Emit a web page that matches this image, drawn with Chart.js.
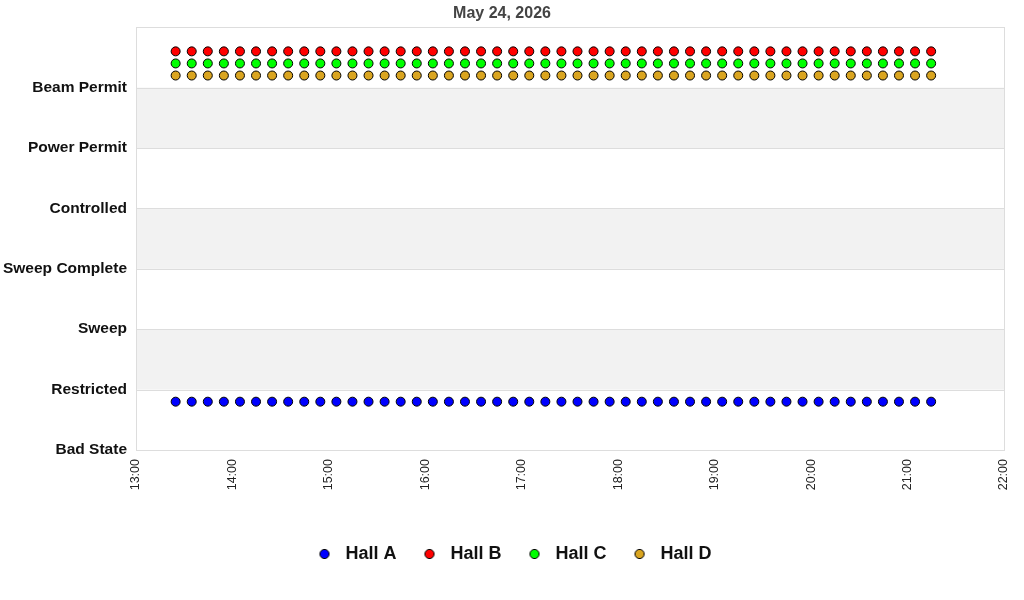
<!DOCTYPE html>
<html>
<head>
<meta charset="utf-8">
<script src="https://cdn.jsdelivr.net/npm/chart.js@4.4.1/dist/chart.umd.min.js"></script>
<style>
html, body { margin: 0; padding: 0; background: #fff; }
#wrap { width: 1024px; height: 600px; }
</style>
</head>
<body>
<div id="wrap"><canvas id="myChart"></canvas></div>
<script>
'use strict'
// chart data
var chartTitle = 'May 24, 2026';
var stateLabels = ['Bad State', 'Restricted', 'Sweep', 'Sweep Complete', 'Controlled', 'Power Permit', 'Beam Permit'];
var xTickLabels = ['13:00', '14:00', '15:00', '16:00', '17:00', '18:00', '19:00', '20:00', '21:00', '22:00'];
var hallNames = ['Hall A', 'Hall B', 'Hall C', 'Hall D'];

var sampleTimes = ['13:24:40', '13:34:40', '13:44:40', '13:54:40', '14:04:40', '14:14:40', '14:24:40', '14:34:40',
    '14:44:40', '14:54:40', '15:04:40', '15:14:40', '15:24:40', '15:34:40', '15:44:40', '15:54:40',
    '16:04:40', '16:14:40', '16:24:40', '16:34:40', '16:44:40', '16:54:40', '17:04:40', '17:14:40',
    '17:24:40', '17:34:40', '17:44:40', '17:54:40', '18:04:40', '18:14:40', '18:24:40', '18:34:40',
    '18:44:40', '18:54:40', '19:04:40', '19:14:40', '19:24:40', '19:34:40', '19:44:40', '19:54:40',
    '20:04:40', '20:14:40', '20:24:40', '20:34:40', '20:44:40', '20:54:40', '21:04:40', '21:14:40'];

// state index per sample (index into stateLabels)
var hallAState = [1, 1, 1, 1, 1, 1, 1, 1, 1, 1, 1, 1, 1, 1, 1, 1, 1, 1, 1, 1, 1, 1, 1, 1,
    1, 1, 1, 1, 1, 1, 1, 1, 1, 1, 1, 1, 1, 1, 1, 1, 1, 1, 1, 1, 1, 1, 1, 1];
var hallBState = [6, 6, 6, 6, 6, 6, 6, 6, 6, 6, 6, 6, 6, 6, 6, 6, 6, 6, 6, 6, 6, 6, 6, 6,
    6, 6, 6, 6, 6, 6, 6, 6, 6, 6, 6, 6, 6, 6, 6, 6, 6, 6, 6, 6, 6, 6, 6, 6];
var hallCState = [6, 6, 6, 6, 6, 6, 6, 6, 6, 6, 6, 6, 6, 6, 6, 6, 6, 6, 6, 6, 6, 6, 6, 6,
    6, 6, 6, 6, 6, 6, 6, 6, 6, 6, 6, 6, 6, 6, 6, 6, 6, 6, 6, 6, 6, 6, 6, 6];
var hallDState = [6, 6, 6, 6, 6, 6, 6, 6, 6, 6, 6, 6, 6, 6, 6, 6, 6, 6, 6, 6, 6, 6, 6, 6,
    6, 6, 6, 6, 6, 6, 6, 6, 6, 6, 6, 6, 6, 6, 6, 6, 6, 6, 6, 6, 6, 6, 6, 6];

// each hall is drawn a bit off its row so they don't cover each other
var hallRowShift = [-0.2, 0.6, 0.4, 0.2];
var hallColors = ['#0000ff', '#ff0000', '#00ff00', '#daa520'];

var fontFamily = '"Liberation Sans", Arial, sans-serif';

function minutesFrom13(t) {
    var p = t.split(':');
    return (Number(p[0]) - 13) * 60 + Number(p[1]) + Number(p[2] || 0) / 60;
}

function makePoints(states, shift) {
    var pts = [];
    for (var i = 0; i < sampleTimes.length; i++) {
        pts.push({ x: minutesFrom13(sampleTimes[i]), y: states[i] + shift });
    }
    return pts;
}

// small round icon for the legend
function legendDot(color) {
    var c = document.createElement('canvas');
    c.width = 12;
    c.height = 12;
    var g = c.getContext('2d');
    g.beginPath();
    g.arc(6, 6, 4.6, 0, Math.PI * 2);
    g.fillStyle = color;
    g.fill();
    g.lineWidth = 1;
    g.strokeStyle = '#000';
    g.stroke();
    return c;
}

var allStates = [hallAState, hallBState, hallCState, hallDState];
var datasets = [];
for (var h = 0; h < hallNames.length; h++) {
    datasets.push({
        label: hallNames[h],
        data: makePoints(allStates[h], hallRowShift[h]),
        backgroundColor: hallColors[h],
        borderColor: '#000',
        borderWidth: 1,
        pointRadius: 4.5,
        pointHoverRadius: 4.5,
        showLine: false
    });
}

// grey bands + frame around plot
var bandPlugin = {
    id: 'bands',
    afterLayout: function (chart) {
        // legend sits a little right of centre in the original
        chart.legend.left += 10;
        chart.legend.right += 10;
    },
    beforeDatasetsDraw: function (chart) {
        var ctx = chart.ctx;
        var area = chart.chartArea;
        var y = chart.scales.y;
        ctx.save();
        ctx.fillStyle = '#f2f2f2';
        for (var v = 1; v < stateLabels.length; v += 2) {
            var top = y.getPixelForValue(v + 1);
            var bot = y.getPixelForValue(v);
            ctx.fillRect(area.left, top, area.right - area.left, bot - top);
        }
        ctx.strokeStyle = '#dddddd';
        ctx.lineWidth = 1;
        for (var k = 0; k <= stateLabels.length; k++) {
            var py = Math.round(y.getPixelForValue(k)) + 0.5;
            ctx.beginPath();
            ctx.moveTo(area.left, py);
            ctx.lineTo(area.right, py);
            ctx.stroke();
        }
        ctx.strokeRect(Math.round(area.left) + 0.5, Math.round(area.top) + 0.5,
            Math.round(area.right - area.left), Math.round(area.bottom - area.top));
        ctx.restore();
    }
};

var ctx = document.getElementById('myChart').getContext('2d');
var chart = new Chart(ctx, {
    type: 'scatter',
    data: { datasets: datasets },
    plugins: [bandPlugin],
    options: {
        responsive: true,
        maintainAspectRatio: false,
        animation: false,
        layout: { padding: { left: 0, right: 20, top: 0, bottom: 27 } },
        plugins: {
            title: {
                display: true,
                text: chartTitle,
                color: '#444444',
                font: { family: fontFamily, size: 16, weight: 'bold' },
                padding: { top: 4, bottom: 4 }
            },
            legend: {
                position: 'bottom',
                labels: {
                    color: '#111111',
                    font: { family: fontFamily, size: 18, weight: 'bold' },
                    usePointStyle: true,
                    pointStyleWidth: 24,
                    padding: 21,
                    generateLabels: function (chart) {
                        var items = Chart.defaults.plugins.legend.labels.generateLabels(chart);
                        items.forEach(function (it, i) {
                            it.pointStyle = legendDot(hallColors[i]);
                        });
                        return items;
                    }
                }
            },
            tooltip: { enabled: false }
        },
        scales: {
            x: {
                type: 'linear',
                min: 0,
                max: 540,
                afterFit: function (s) {
                    s.height = 74;
                    s.paddingLeft = 0;
                    s.paddingRight = 0;
                },
                afterBuildTicks: function (s) {
                    var t = [];
                    for (var i = 0; i < xTickLabels.length; i++) t.push({ value: i * 60 });
                    s.ticks = t;
                },
                ticks: {
                    autoSkip: false,
                    maxRotation: 90,
                    minRotation: 90,
                    padding: 9,
                    color: '#222222',
                    font: { family: fontFamily, size: 12.5 },
                    callback: function (v) { return xTickLabels[Math.round(v / 60)]; }
                },
                grid: { display: false, drawTicks: false },
                border: { display: false }
            },
            y: {
                min: 0,
                max: 7,
                afterFit: function (s) { s.width = 136; },
                ticks: {
                    stepSize: 1,
                    padding: 9,
                    color: '#111111',
                    font: { family: fontFamily, size: 15.5, weight: 'bold' },
                    callback: function (v) { return stateLabels[v] || ''; }
                },
                grid: { display: false, drawTicks: false },
                border: { display: false }
            }
        }
    }
});
</script>
</body>
</html>
